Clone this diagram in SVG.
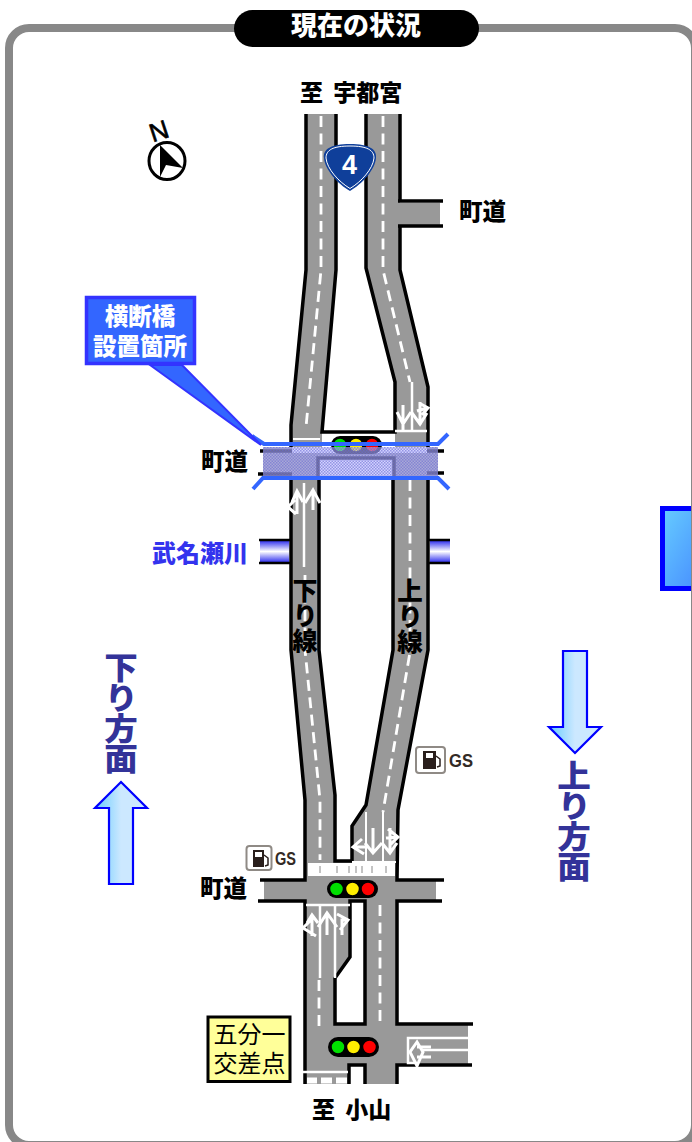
<svg xmlns="http://www.w3.org/2000/svg" width="692" height="1142" viewBox="0 0 692 1142">
<style>
text{font-family:"Noto Sans CJK JP","Noto Sans",sans-serif}
.b{font-weight:900;fill:#000}
.v{writing-mode:vertical-rl;text-orientation:upright}
.road{fill:#999;stroke:none}
.edge{fill:none;stroke:#000;stroke-width:3.5}
.med{fill:#fff;stroke:#000;stroke-width:3.5}
.dash{fill:none;stroke:#fff;stroke-width:2.800;stroke-dasharray:11 6.500}
.sol{fill:none;stroke:#fff;stroke-width:2.500}
.thin{fill:none;stroke:#fff;stroke-width:2}
.mk{fill:none;stroke:#fff;stroke-width:3}
.pill{fill:#000}
.g{fill:#00e000;stroke:#000;stroke-width:1.500}
.y{fill:#ffee00;stroke:#000;stroke-width:1.500}
.r{fill:#f00;stroke:#000;stroke-width:1.500}
.arrow{stroke:#00f;stroke-width:2.200;fill:url(#ag);stroke-linejoin:miter}
.dir{font-weight:900;fill:#333399;font-size:30.500px}
.gs{font-family:"Liberation Sans",sans-serif;font-weight:700;fill:#332a25}
.ico{fill:#fff;stroke:#8f8a85;stroke-width:2}
.pump{fill:#2a1f1c}
</style>
<defs>
<linearGradient id="ag" x1="0" x2="1" y1="0" y2="0"><stop offset="0" stop-color="#66ccff"/><stop offset=".5" stop-color="#cce8ff"/><stop offset="1" stop-color="#cce8ff"/></linearGradient>
<linearGradient id="box" x1="0" x2="1" y1="0" y2="1"><stop offset="0" stop-color="#66ccff"/><stop offset="1" stop-color="#4488ff"/></linearGradient>
<linearGradient id="riv" x1="0" x2="0" y1="0" y2="1"><stop offset="0" stop-color="#2222ee"/><stop offset=".5" stop-color="#fff"/><stop offset="1" stop-color="#2222ee"/></linearGradient>
<pattern id="chk" width="3" height="3" patternUnits="userSpaceOnUse"><rect width="3" height="3" fill="#b4b4ff" fill-opacity=".6"/><rect width="1.500" height="1.500" fill="#6a6ad0" fill-opacity=".6"/><rect x="1.500" y="1.500" width="1.500" height="1.500" fill="#6a6ad0" fill-opacity=".6"/></pattern>
</defs>
<rect width="692" height="1142" fill="#fff"/>
<g id="side-box"><rect x="662.500" y="508.500" width="45" height="80" fill="url(#box)" stroke="#0000ff" stroke-width="5"/></g>
<g id="frame"><rect x="9" y="28" width="686" height="1117" rx="20" fill="none" stroke="#888" stroke-width="8"/></g>
<g id="title"><rect x="234" y="10" width="245" height="37" rx="18.500" fill="#000"/><text x="356" y="35" font-size="26" font-weight="900" fill="#fff" text-anchor="middle">現在の状況</text></g>

<g id="connectors">
<path class="road" d="M306 114H336V270L322 432V447H291V425L306 270Z"/>
<path class="road" d="M366 114H400V203H440V226H400V270L428 387V447H395V382L366 268Z"/>
<rect class="road" x="263" y="447" width="175" height="31"/>
<path class="road" d="M291 478H319V650L335 795V880H305V800L291 650Z"/>
<path class="road" d="M393 478H428V650L398 810L397 880H352V826L366 805L393 650Z"/>
<rect class="road" x="305" y="862" width="92" height="20"/>
<rect class="road" x="264" y="880" width="172" height="21"/>
<rect class="road" x="305" y="900" width="92" height="184"/>
<rect class="road" x="397" y="1024" width="71" height="41"/>
<rect x="292" y="447" width="135" height="6" fill="#fff"/>
<rect x="319" y="458" width="75" height="20" fill="#fff"/>

<path class="edge" d="M306 114V270L291 425V447"/>
<path class="edge" d="M336 114V270L322 432H395V382L366 268V114"/>
<path class="edge" d="M400 114V201M400 226V270L428 387V447M398 201H443M398 226H443"/>
<path class="edge" d="M260 451H292M258 474H292M427 451H444M427 473H444M318 478V458H394V478" stroke-width="3"/>
<path class="edge" d="M291 478V650L305 800V880H260M258 901H305V1084"/>
<path class="edge" d="M319 478V650L335 795V861H352V826L366 805L393 650V478"/>
<path class="edge" d="M428 478V650L398 810L397 880H444M442 901H397V1024H473M472 1065H397V1084"/>
<path class="med" d="M350 901H365V1024H335V978L350 957Z"/>
<path class="med" d="M349 1084V1065H365V1084"/>

<path class="dash" d="M321 116V270L306 427"/>
<path class="dash" d="M383 116V270L410 382"/>
<path class="sol" d="M412 382V432M395 431H427"/>
<path class="thin" d="M293 439H320"/>
<path class="sol" d="M304 483V567"/>
<path class="dash" d="M305 575V650L320 800V860"/>
<path class="dash" d="M410 480V652L383 812"/>
<path class="thin" d="M366 812V861M383 812V861M352 862H396"/>
<rect x="308" y="863" width="87" height="13" fill="#fff"/>
<path d="M320 866V873M337 866V873M349 866V873M356 866V873M362 866V873M372 866V873M386 866V873" stroke="#888" stroke-width="1" fill="none"/>
<path class="sol" d="M306 905H350M320 905V978M335 905V978"/>
<path class="dash" d="M319 980V1027M380 905V1027"/>
<path class="sol" d="M303 1072H348"/>
<path d="M307 1080.500H317M321 1080.500H332M336 1080.500H347" stroke="#fff" stroke-width="6" fill="none"/>
<path class="sol" d="M468 1038H408V1063H417M423 1050H468"/>

<path class="mk" d="M397 412L403 424L411 412M403 405V431M412 413L420 424L427 413M420 402V425M417 411L427 408M419 403L428 408L422 415"/>
<path class="mk" d="M305 503L313 490L320 503M313 490V510M292 502L297 491L303 502M297 491V514M295 500L288 507L296 514"/>
<path class="mk" d="M365 843L373 853L382 843M373 828V853M382 843L390 853L397 843M390 828V853M362 839L353 847L364 854M353 847L368 847M388 829L398 837L390 845M398 837L386 838"/>
<path class="mk" d="M318 927L327 913L337 927M327 913V935M307 923L312 915L318 923M312 915V936M313 918L303 928L316 936M337 914L348 920L340 930M348 920H342V935"/>
<path class="mk" d="M417 1042L410 1052L417 1066L423 1052ZM417 1047H431M417 1057H431"/>
</g>

<g id="rivers">
<rect x="260" y="540" width="29" height="23" fill="url(#riv)"/><rect x="430" y="540" width="20" height="23" fill="url(#riv)"/>
<path d="M259 540H290M259 563H290M429 540H450M429 563H450" stroke="#000" stroke-width="2.500" fill="none"/>
</g>

<g id="signal-1"><rect class="pill" x="331" y="436" width="51" height="18" rx="9"/><circle class="g" cx="340" cy="445" r="7"/><circle class="y" cx="356" cy="445" r="7"/><circle class="r" cx="372" cy="445" r="7"/></g>
<g id="signal-2"><rect class="pill" x="327" y="880" width="51" height="18" rx="9"/><circle class="g" cx="336.500" cy="889" r="7"/><circle class="y" cx="352.500" cy="889" r="7"/><circle class="r" cx="368" cy="889" r="7"/></g>
<g id="signal-3"><rect class="pill" x="328" y="1037" width="51" height="20" rx="10"/><circle class="g" cx="338" cy="1047" r="7"/><circle class="y" cx="353.500" cy="1047" r="7"/><circle class="r" cx="369.500" cy="1047" r="7"/></g>

<g id="bridge">
<rect x="263" y="447" width="175" height="31" fill="url(#chk)"/>
<path d="M252 436L264 444H438L448 434M253 489L263 478H438L449 489" fill="none" stroke="#3366ff" stroke-width="4"/>
</g>

<g id="callout">
<path d="M150 365L261 445L182 365Z" fill="#3366ff" stroke="#3333ff" stroke-width="2"/>
<rect x="86.500" y="297.500" width="108" height="66" fill="#3366ff" stroke="#3333ff" stroke-width="3.500"/>
<text font-size="23.500" font-weight="900" fill="#fff" text-anchor="middle"><tspan x="140" y="325">横断橋</tspan><tspan x="140" y="355">設置箇所</tspan></text>
</g>

<g id="compass">
<text x="159" y="140" font-size="26" text-anchor="middle" fill="#000" stroke="#000" stroke-width=".6" transform="rotate(-18 159 131)" style="font-family:'Liberation Sans',sans-serif">N</text>
<ellipse cx="167" cy="161" rx="18" ry="18.500" fill="#fff" stroke="#000" stroke-width="3"/>
<path d="M160 145L183 168L166 165L160 177Z" fill="#000"/>
</g>

<g id="route-4">
<path d="M324 158C323 149 331 144 350 144C369 144 377 149 376 158C375 170 362 184 350 191C338 184 325 170 324 158Z" fill="#0f3f9a"/>
<path d="M326 158C326 150 333 146 350 146C367 146 374 150 374 158C373 169 361 182 350 188.500C339 182 327 169 326 158Z" fill="none" stroke="#fff" stroke-width="1"/>
<text x="349.500" y="174" font-size="27" font-weight="700" fill="#fff" text-anchor="middle" style="font-family:'Liberation Sans',sans-serif">4</text>
</g>

<g id="labels">
<text class="b" x="300" y="101" font-size="23" word-spacing="5">至 宇都宮</text>
<text class="b" x="459" y="220" font-size="23.500">町道</text>
<text class="b" x="201" y="470" font-size="23.500">町道</text>
<text class="b" x="200" y="897" font-size="23.500">町道</text>
<text x="152" y="562" font-size="24" font-weight="900" fill="#3333ee">武名瀬川</text>
<text class="b" x="312" y="1118" font-size="23" word-spacing="5">至 小山</text>
<text class="b v" x="305" y="578" font-size="25">下り線</text>
<text class="b v" x="410" y="578" font-size="25.500">上り線</text>
<text class="dir v" transform="translate(121 652) scale(1.1 1)" x="0" y="0">下り方面</text>
<text class="dir v" transform="translate(574 760) scale(1.1 1)" x="0" y="0">上り方面</text>
</g>

<g id="arrow-down"><path class="arrow" d="M563 651H587V727H601L575 753L549 727H563Z"/></g>
<g id="arrow-up"><path class="arrow" d="M109 884H133V808H147L121 782L95 808H109Z"/></g>

<g id="gs-1"><rect class="ico" x="416" y="747" width="29" height="26" rx="3"/><path class="pump" d="M423 751H436V769H423ZM426 753V758H433V753Z" fill-rule="evenodd"/><path d="M436 756L440 759V766L437 767" fill="none" stroke="#2a1f1c" stroke-width="1.500"/><text class="gs" x="449" y="767" font-size="19" textLength="24" lengthAdjust="spacingAndGlyphs">GS</text></g>
<g id="gs-2"><rect class="ico" x="246.500" y="846" width="25" height="24" rx="3"/><path class="pump" d="M253 850H264V867H253ZM255 852V857H262V852Z" fill-rule="evenodd"/><path d="M264 855L268 858V865L265 866" fill="none" stroke="#2a1f1c" stroke-width="1.500"/><text class="gs" x="275" y="865" font-size="18" textLength="21" lengthAdjust="spacingAndGlyphs">GS</text></g>

<g id="intersection-name">
<rect x="208" y="1017" width="82" height="64.500" fill="#ffff99" stroke="#000" stroke-width="3"/>
<text font-size="24" text-anchor="middle" fill="#000"><tspan x="249.500" y="1043">五分一</tspan><tspan x="249.500" y="1072">交差点</tspan></text>
</g>
</svg>
